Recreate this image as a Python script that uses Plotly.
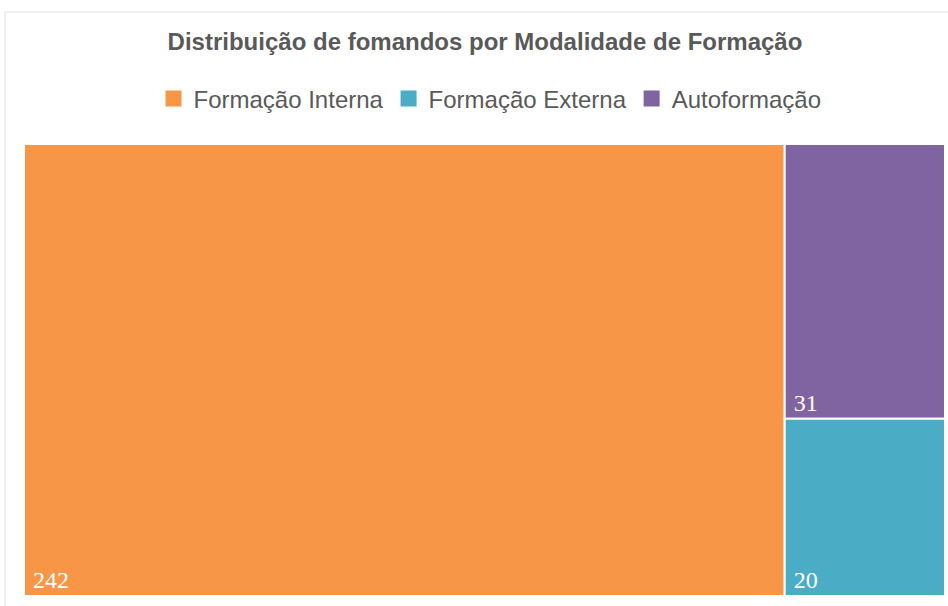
import plotly.graph_objects as go

categories = ["Formação Interna", "Formação Externa", "Autoformação"]
values = [242, 20, 31]
colors = ["#F79646", "#4BACC6", "#8064A2"]
title_text = "Distribuição de fomandos por Modalidade de Formação"

W, H = 948, 606

fig = go.Figure()
fig.add_trace(go.Treemap(
    labels=categories,
    parents=["", "", ""],
    values=values,
    marker=dict(colors=colors, line=dict(color="white", width=2),
                pad=dict(t=0, l=0, r=0, b=0)),
    texttemplate="\u00a0%{value}",
    textposition="bottom left",
    textfont=dict(family="Liberation Serif", size=24, color="white"),
    tiling=dict(packing="squarify", pad=0),
    pathbar=dict(visible=False),
    sort=True,
    hoverinfo="label+value",
    domain=dict(x=[24 / W, 945 / W], y=[(H - 596) / H, (H - 144) / H]),
))

for name, col in zip(categories, colors):
    fig.add_trace(go.Scatter(
        x=[None], y=[None], mode="markers", name=name,
        marker=dict(symbol="square", size=16, color=col),
        showlegend=True,
    ))

fig.update_layout(
    width=W, height=H,
    margin=dict(l=0, r=0, t=0, b=0),
    paper_bgcolor="white", plot_bgcolor="white",
    title=dict(text="<b>" + title_text + "</b>", x=485 / W, xanchor="center",
               y=1 - 42 / H, yanchor="middle",
               font=dict(family="Liberation Sans", size=24, color="#595959")),
    legend=dict(orientation="h", x=490 / W, xanchor="center", y=1 - 99 / H, yanchor="middle",
                font=dict(family="Liberation Sans", size=24, color="#595959"),
                itemsizing="trace", bgcolor="rgba(0,0,0,0)"),
    xaxis=dict(visible=False), yaxis=dict(visible=False),
    shapes=[dict(type="rect", xref="paper", yref="paper", x0=5 / W, x1=1.02, y0=-0.02, y1=1 - 12 / H,
                 line=dict(color="#E0E0E0", width=1), layer="below")],
)

fig.write_html("out.html", post_script="document.body.style.margin='0';",
               config={"displayModeBar": False})
